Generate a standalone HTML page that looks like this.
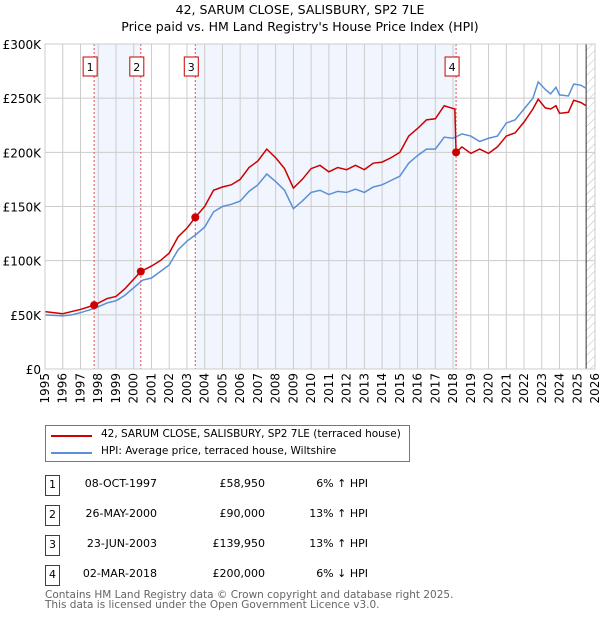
<!DOCTYPE html>
<html><head><meta charset="utf-8"><style>
body{margin:0;background:#fff;font-family:"Liberation Sans","DejaVu Sans",sans-serif;}
#wrap{position:relative;width:600px;height:620px;overflow:hidden}
.t{position:absolute;font-size:12px;color:#000;white-space:nowrap}
</style></head><body><div id="wrap">
<svg id="svg" width="600" height="620" style="position:absolute;left:0;top:0">
<defs><pattern id="hatch" width="6" height="6" patternUnits="userSpaceOnUse" patternTransform="rotate(45)"><line x1="0" y1="0" x2="0" y2="6" stroke="#bbb" stroke-width="1"/></pattern></defs>
<text x="300" y="14" text-anchor="middle" font-size="12.5" font-family="DejaVu Sans, sans-serif">42, SARUM CLOSE, SALISBURY, SP2 7LE</text>
<text x="300" y="31" text-anchor="middle" font-size="12.5" font-family="DejaVu Sans, sans-serif">Price paid vs. HM Land Registry's House Price Index (HPI)</text>
<g id="plot"></g>
</svg>
<div style="position:absolute;left:45px;top:425px;width:363px;height:35px;border:1px solid #777;font-family:'DejaVu Sans',sans-serif;font-size:10.5px;white-space:nowrap">
 <div style="position:absolute;left:5px;top:9px;width:41px;height:2px;background:#cc0000"></div>
 <div style="position:absolute;left:55px;top:2px">42, SARUM CLOSE, SALISBURY, SP2 7LE (terraced house)</div>
 <div style="position:absolute;left:5px;top:26px;width:41px;height:2px;background:#5b8fd6"></div>
 <div style="position:absolute;left:55px;top:19px">HPI: Average price, terraced house, Wiltshire</div>
</div>
<div id="table" style="font-family:'DejaVu Sans',sans-serif"></div>
<div class="t" style="left:45px;top:590px;color:#666;font-family:'DejaVu Sans',sans-serif;font-size:10.5px;line-height:10px">Contains HM Land Registry data © Crown copyright and database right 2025.<br>This data is licensed under the Open Government Licence v3.0.</div>
</div>
<script>
const hpiYears=[1995,1996,1996.5,1997,1997.8,1998.5,1999,1999.5,2000,2000.5,2001,2001.5,2002,2002.5,2003,2003.5,2004,2004.5,2005,2005.5,2006,2006.5,2007,2007.5,2008,2008.5,2009,2009.5,2010,2010.5,2011,2011.5,2012,2012.5,2013,2013.5,2014,2014.5,2015,2015.5,2016,2016.5,2017,2017.5,2018,2018.5,2019,2019.5,2020,2020.5,2021,2021.5,2022,2022.5,2022.8,2023.2,2023.5,2023.8,2024,2024.5,2024.8,2025.2,2025.5];
const hpiValues=[50,49,50,52,56,61,63,68,75,82,84,90,96,110,118,124,131,145,150,152,155,164,170,180,173,165,148,155,163,165,161,164,163,166,163,168,170,174,178,190,197,203,203,214,213,217,215,210,213,215,227,230,240,250,265,258,254,260,253,252,263,262,259];
const propYears=[1995,1996,1996.5,1997,1997.77,1998.5,1999,1999.5,2000.4,2001,2001.5,2002,2002.5,2003,2003.47,2004,2004.5,2005,2005.5,2006,2006.5,2007,2007.5,2008,2008.5,2009,2009.5,2010,2010.5,2011,2011.5,2012,2012.5,2013,2013.5,2014,2014.5,2015,2015.5,2016,2016.5,2017,2017.5,2018.1,2018.17,2018.5,2019,2019.5,2020,2020.5,2021,2021.5,2022,2022.5,2022.8,2023.2,2023.5,2023.8,2024,2024.5,2024.8,2025.2,2025.5];
const propValues=[53,51,53,55,58.95,65,67,74,90,95,100,107,122,130,139.95,150,165,168,170,175,186,192,203,195,185,167,175,185,188,182,186,184,188,184,190,191,195,200,215,222,230,231,243,240,200,205,199,203,199,205,215,218,228,240,249,241,240,243,236,237,248,246,243];
const saleLabels=["1","2","3","4"];
const saleYears=[1997.77,2000.4,2003.47,2018.17];
const salePrices=[58.95,90,139.95,200];
const saleDates=["08-OCT-1997","26-MAY-2000","23-JUN-2003","02-MAR-2018"];
const salePriceText=["£58,950","£90,000","£139,950","£200,000"];
const saleHpiText=["6% ↑ HPI","13% ↑ HPI","13% ↑ HPI","6% ↓ HPI"];
const yTicks=[0,50,100,150,200,250,300];
const yTickLabels=["£0","£50K","£100K","£150K","£200K","£250K","£300K"];
const xTicks=[];for(let y=1995;y<=2026;y++)xTicks.push(y);
const todayYear=2025.5;

const X0=45,X1=595,Y0=369,Y1=44;
const xs=v=>X0+(v-1995)/(2026-1995)*(X1-X0);
const ys=v=>Y0-(v/300)*(Y0-Y1);
const NS="http://www.w3.org/2000/svg";
const g=document.getElementById('plot');
function mk(t,a){const e=document.createElementNS(NS,t);for(const k in a)e.setAttribute(k,a[k]);g.appendChild(e);return e;}
let e;
e=mk('rect',{x:X0,y:Y1,width:X1-X0,height:Y0-Y1,fill:'#fff'});

for(let i=0;i<saleYears.length;i+=2){
 e=mk('rect',{x:xs(saleYears[i]),y:Y1,width:xs(saleYears[i+1])-xs(saleYears[i]),height:Y0-Y1,fill:'#eef3fc',opacity:0.8});
 
}
e=mk('rect',{x:xs(todayYear),y:Y1,width:X1-xs(todayYear),height:Y0-Y1,fill:'url(#hatch)'});

xTicks.forEach(t=>{
 e=mk('line',{x1:xs(t),x2:xs(t),y1:Y1,y2:Y0,stroke:'#ccc','stroke-width':1});
 
 e=mk('text',{x:0,y:0,transform:`translate(${xs(t)+4},${Y0+4}) rotate(-90)`,'text-anchor':'end','font-size':12,'font-family':'DejaVu Sans, sans-serif'});
 e.textContent=t;
 
});
yTicks.forEach((t,i)=>{
 e=mk('line',{x1:X0,x2:X1,y1:ys(t),y2:ys(t),stroke:'#ccc','stroke-width':1});
 
 e=mk('text',{x:X0-4,y:ys(t)+5,'text-anchor':'end','font-size':12,'font-family':'DejaVu Sans, sans-serif'});
 e.textContent=yTickLabels[i];
 
});
e=mk('line',{x1:xs(todayYear),x2:xs(todayYear),y1:Y1,y2:Y0,stroke:'#333','stroke-width':1});

saleYears.forEach((s,i)=>{
 e=mk('line',{x1:xs(s),x2:xs(s),y1:Y1,y2:Y0,stroke:'#e05050','stroke-width':1,'stroke-dasharray':'2,2'});
 
 e=mk('rect',{x:xs(s)-11,y:57,width:14,height:19,fill:'#fff',stroke:'#cc0000','stroke-width':1});
 
 e=mk('text',{x:xs(s)-4,y:71,'text-anchor':'middle','font-size':11,'font-family':'DejaVu Sans, sans-serif'});
 e.textContent=saleLabels[i];
 
});
e=mk('polyline',{points:hpiYears.map((y,i)=>xs(y)+','+ys(hpiValues[i])).join(' '),fill:'none',stroke:'#5b8fd6','stroke-width':1.5});

e=mk('polyline',{points:propYears.map((y,i)=>xs(y)+','+ys(propValues[i])).join(' '),fill:'none',stroke:'#cc0000','stroke-width':1.5});

saleYears.forEach((s,i)=>{
 e=mk('circle',{cx:xs(s),cy:ys(salePrices[i]),r:4,fill:'#cc0000'});
 
});
e=mk('rect',{x:X0,y:Y1,width:X1-X0,height:Y0-Y1,fill:'none',stroke:'#ccc'});
const tb=document.getElementById('table');
saleDates.forEach((d,i)=>{
 const top=475+i*30;
 const row=document.createElement('div');
 
 
 row.style.cssText=`position:absolute;left:0;top:${top}px;width:600px;height:22px;font-size:11px`;
 row.innerHTML=`<div style="position:absolute;left:45px;top:0;width:13px;height:19px;border:1px solid #cc0000;text-align:center;line-height:17px">${saleLabels[i]}</div>
 <div style="position:absolute;right:443px;top:2px">${d}</div>
 <div style="position:absolute;right:335px;top:2px">${salePriceText[i]}</div>
 <div style="position:absolute;right:232px;top:2px">${saleHpiText[i]}</div>`;
 tb.appendChild(row);
});
</script></body></html>
